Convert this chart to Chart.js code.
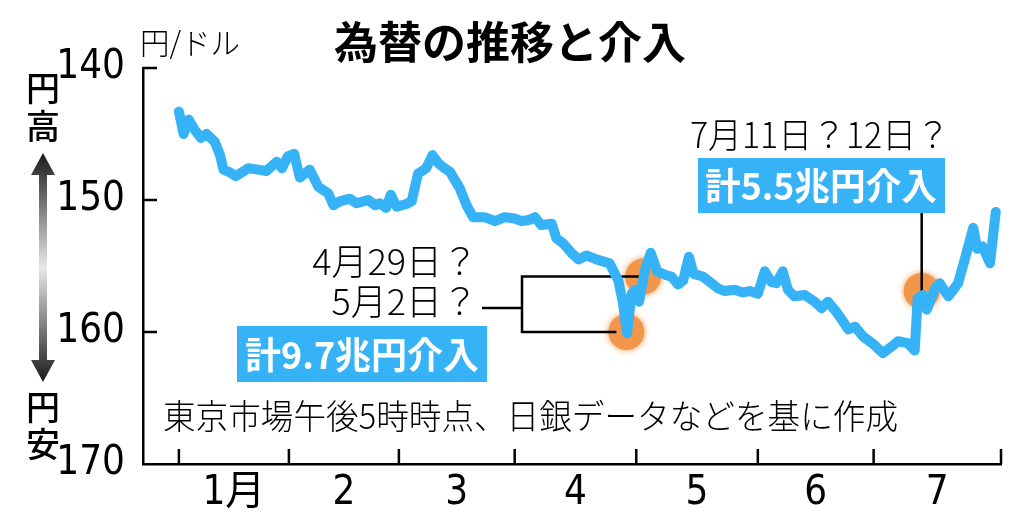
<!DOCTYPE html>
<html lang="ja">
<head>
<meta charset="utf-8">
<title>為替の推移と介入</title>
<script src="https://cdn.jsdelivr.net/npm/chart.js@4.4.1/dist/chart.umd.min.js"></script>
<style>
  html, body { margin: 0; padding: 0; background: #fff; }
  canvas { display: block; }
</style>
</head>
<body>
<canvas id="myChart" width="1024" height="518"></canvas>
<script>
// x = 東京市場の営業日の通し番号 (1月4日 = 0), y = 午後5時時点の円/ドル
const days = [
  0, 0.8, 1.7, 2.6, 3.8, 4.8, 6.2, 7.1, 7.7, 8.8, 9.8, 12.0, 13.7, 15.1, 16.9, 17.8, 18.8,
  19.9, 20.9, 22.6, 24.1, 25.8, 26.7, 27.8, 29.5, 30.7, 32.7, 33.9, 34.7, 35.8, 36.6, 37.6,
  39.3, 40.2, 41.3, 42.7, 43.8, 44.8, 45.9, 46.8, 48.5, 49.7, 50.8, 52.8, 54.6, 56.3,
  58.0, 59.2, 60.6, 61.5, 62.6, 64.4, 65.2, 66.4, 67.8, 69.0, 70.4, 72.1, 74.4, 75.9, 76.7, 77.4, 78.2, 78.8,
  79.5, 80.5, 81.5, 82.6, 84.2, 85.1, 86.2, 87.1, 88.1, 88.9, 90.5, 92.0, 93.1, 94.3, 96.0, 97.4, 98.6,
  100.0, 101.2, 102.3, 103.2, 104.3, 105.2, 106.3, 108.1, 109.8, 111.0, 112.1, 113.6, 114.7, 115.6, 116.8, 118.2, 119.9,
  121.6, 123.4, 124.2, 125.9, 127.1, 127.6, 128.5, 129.2, 130.6, 131.4, 132.9, 134.6, 135.8, 137.2, 137.9, 138.8, 140.1, 141.1
];
const rates = [
  143.3, 145.0, 143.9, 144.6, 145.3, 145.0, 145.6, 146.6, 147.7, 147.9, 148.2, 147.6, 147.7, 147.8, 147.1, 147.6, 146.7,
  146.5, 148.3, 147.7, 149.0, 149.5, 150.4, 150.1, 149.9, 150.25, 150.0, 150.4, 150.25, 150.6, 149.6, 150.5,
  150.3, 150.1, 148.0, 147.6, 146.6, 147.2, 147.6, 147.85, 149.1, 150.4, 151.3, 151.3, 151.6, 151.3,
  151.4, 151.6, 151.5, 151.3, 151.9, 151.8, 152.9, 153.3, 154.0, 154.5, 154.2, 154.5, 154.8, 156.1, 157.8, 160.1, 157.1, 156.8,
  157.7, 155.3, 154.0, 155.4, 155.7, 155.8, 156.4, 156.1, 154.3, 155.6, 155.8, 156.3, 156.7, 156.9, 156.8, 157.0, 156.9,
  157.1, 155.4, 156.2, 156.3, 155.4, 156.8, 157.3, 157.2, 157.7, 158.2, 157.7, 158.5, 159.2, 159.8, 159.6, 160.35, 160.9,
  161.6, 161.0, 160.7, 160.85, 161.4, 157.45, 157.2, 158.3, 156.7, 156.3, 157.3, 156.3, 154.4, 152.1, 153.7, 153.5, 154.8, 150.9
];
// 各月の最初の営業日 (最後は8月1日)
const monthStarts = [0, 19, 38, 58, 79, 100, 120, 142];
const monthLabels = ['1月', '2', '3', '4', '5', '6', '7'];
const yTicks = [140, 150, 160, 170];
// 介入の時点 (4月29日, 5月2日, 7月11日)
const interventionDays = [77.3, 80.2, 128.3];
const interventionRates = [160.0, 155.8, 156.9];

const BLUE = '#35b3f6';
const ORANGE = '#f2964a';
const JP = '"Noto Sans CJK JP", "Noto Sans", sans-serif';
const NARROW = '"Liberation Sans Narrow", "DejaVu Sans Condensed", "Noto Sans CJK JP", sans-serif';

function text(ctx, str, x, y, font, color, align, maxW) {
    ctx.font = font;
    ctx.fillStyle = color;
    ctx.textAlign = align || 'left';
    ctx.textBaseline = 'middle';
    if (maxW) ctx.fillText(str, x, y, maxW);
    else ctx.fillText(str, x, y);
}

const decor = {
    id: 'decor',
    beforeDatasetDraw(chart, args) {
        if (args.index !== 1) return;
        chart.ctx.save();
        chart.ctx.shadowColor = ORANGE;
        chart.ctx.shadowBlur = 6;
    },
    afterDatasetDraw(chart, args) {
        if (args.index !== 1) return;
        const ctx = chart.ctx;
        ctx.restore();
        const xs = chart.scales.x, ys = chart.scales.y;
        const low = { x: xs.getPixelForValue(interventionDays[0]), y: ys.getPixelForValue(interventionRates[0]) };
        const up = { x: xs.getPixelForValue(interventionDays[1]), y: ys.getPixelForValue(interventionRates[1]) };
        const jul = { x: xs.getPixelForValue(interventionDays[2]), y: ys.getPixelForValue(interventionRates[2]) };
        ctx.save();
        ctx.strokeStyle = '#000';
        ctx.lineWidth = 2.5;
        ctx.beginPath();
        ctx.moveTo(482, 308); ctx.lineTo(522, 308);
        ctx.moveTo(up.x - 4, up.y); ctx.lineTo(522, up.y); ctx.lineTo(522, low.y); ctx.lineTo(low.x - 10, low.y);
        ctx.moveTo(jul.x, 213); ctx.lineTo(jul.x, jul.y);
        ctx.stroke();
        ctx.restore();
    },
    afterDraw(chart) {
        const ctx = chart.ctx;
        const xs = chart.scales.x, ys = chart.scales.y;
        ctx.save();
        // 内向きの目盛り
        ctx.strokeStyle = '#000';
        ctx.lineWidth = 2.5;
        ctx.beginPath();
        yTicks.slice(0, 3).forEach(v => {
            const y = ys.getPixelForValue(v);
            ctx.moveTo(xs.left, y); ctx.lineTo(xs.left + 14, y);
        });
        monthStarts.forEach(d => {
            const x = xs.getPixelForValue(d);
            ctx.moveTo(x, ys.bottom); ctx.lineTo(x, ys.bottom - 15);
        });
        ctx.stroke();

        // 円高・円安の矢印
        const g = ctx.createLinearGradient(0, 153, 0, 382);
        g.addColorStop(0, '#1a1a1a');
        g.addColorStop(0.5, '#e8e8e8');
        g.addColorStop(1, '#1a1a1a');
        ctx.fillStyle = g;
        ctx.beginPath();
        ctx.moveTo(43, 153); ctx.lineTo(55, 175); ctx.lineTo(47, 175); ctx.lineTo(47, 360);
        ctx.lineTo(55, 360); ctx.lineTo(43, 382); ctx.lineTo(31, 360); ctx.lineTo(39, 360);
        ctx.lineTo(39, 175); ctx.lineTo(31, 175); ctx.closePath();
        ctx.fill();
        text(ctx, '円', 43, 88, '500 34px ' + JP, '#000', 'center');
        text(ctx, '高', 43, 126, '500 34px ' + JP, '#000', 'center');
        text(ctx, '円', 43, 407, '500 34px ' + JP, '#000', 'center');
        text(ctx, '安', 43, 444, '500 34px ' + JP, '#000', 'center');

        // タイトルと単位
        text(ctx, '為替の推移と介入', 510, 42, 'bold 44px ' + JP, '#000', 'center');
        text(ctx, '円/ドル', 140, 43, '300 30px ' + JP, '#000', 'left', 100);

        // 注記
        text(ctx, '4月29日？', 478, 261, '300 36px ' + JP, '#000', 'right');
        text(ctx, '5月2日？', 478, 301, '300 36px ' + JP, '#000', 'right');
        text(ctx, '7月11日？12日？', 690, 135, '300 35px ' + JP, '#000', 'left', 260);

        ctx.fillStyle = BLUE;
        ctx.fillRect(237, 326, 250, 56);
        ctx.fillRect(698, 158, 247, 55);
        text(ctx, '計9.7兆円介入', 362, 355, 'bold 37px ' + JP, '#fff', 'center', 234);
        text(ctx, '計5.5兆円介入', 821, 186, 'bold 37px ' + JP, '#fff', 'center', 232);

        text(ctx, '東京市場午後5時時点、日銀データなどを基に作成', 163, 416, '300 34px ' + JP, '#000', 'left', 735);
        ctx.restore();
    }
};

const config = {
    type: 'line',
    data: {
        datasets: [{
            label: '円/ドル',
            data: days.map((d, i) => ({ x: d, y: rates[i] })),
            borderColor: BLUE,
            borderWidth: 10,
            borderCapStyle: 'round',
            borderJoinStyle: 'round',
            pointRadius: 0,
            tension: 0,
            order: 0
        }, {
            type: 'scatter',
            label: '介入',
            data: interventionDays.map((d, i) => ({ x: d, y: interventionRates[i] })),
            backgroundColor: ORANGE,
            borderWidth: 0,
            pointRadius: 18,
            order: 1
        }]
    },
    options: {
        responsive: false,
        animation: false,
        layout: { padding: { top: 68, right: 23, left: 0, bottom: 0 } },
        plugins: { legend: { display: false }, tooltip: { enabled: false } },
        scales: {
            x: {
                type: 'linear',
                min: -6.2,
                max: 142,
                afterBuildTicks: (scale) => {
                    scale.ticks = monthLabels.map((_, i) => ({ value: (monthStarts[i] + monthStarts[i + 1]) / 2 }));
                },
                afterFit: (scale) => { scale.height = 54; },
                grid: { display: false, drawTicks: false },
                border: { display: true, color: '#000', width: 2.5 },
                ticks: {
                    autoSkip: false,
                    maxRotation: 0,
                    padding: 6,
                    color: '#000',
                    font: { family: NARROW, size: 40 },
                    callback: (v, i) => monthLabels[i]
                }
            },
            y: {
                reverse: true,
                min: 140,
                max: 170,
                afterBuildTicks: (scale) => {
                    scale.ticks = yTicks.map(v => ({ value: v }));
                },
                afterFit: (scale) => { scale.width = 143; },
                grid: { display: false, drawTicks: false },
                border: { display: true, color: '#000', width: 2.5 },
                ticks: {
                    padding: 18,
                    color: '#000',
                    font: { family: NARROW, size: 40, weight: '300' }
                }
            }
        }
    },
    plugins: [decor]
};

const myChart = new Chart(document.getElementById('myChart'), config);
</script>
</body>
</html>
